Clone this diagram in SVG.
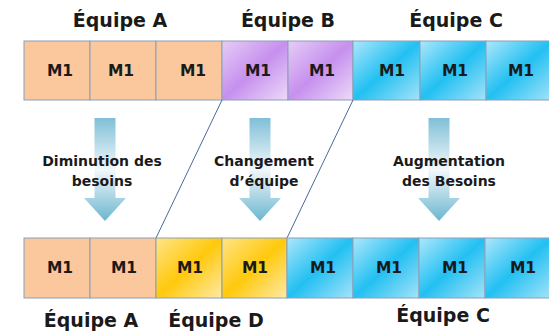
<svg xmlns="http://www.w3.org/2000/svg" width="549" height="331" viewBox="0 0 549 331">
<style>
.t{font-family:"DejaVu Sans",Verdana,sans-serif;font-weight:bold;fill:#1a1a1a;text-anchor:middle}
.h{font-size:19px}
.m{font-size:15.5px}
.l{font-size:14px}
.c{stroke:#8a9fb8;stroke-width:1}
.ln{stroke:#4a6a9a;stroke-width:1;fill:none}
</style>
<defs>
<linearGradient id="gp" x1="0" y1="0" x2="1" y2="1">
<stop offset="0" stop-color="#e6cdf7"/><stop offset="0.5" stop-color="#c690ee"/><stop offset="1" stop-color="#eddbf9"/>
</linearGradient>
<linearGradient id="gb" x1="0" y1="0" x2="1" y2="1">
<stop offset="0" stop-color="#ade7fb"/><stop offset="0.5" stop-color="#22c0f2"/><stop offset="1" stop-color="#a6e3f8"/>
</linearGradient>
<linearGradient id="gy" x1="0" y1="0" x2="1" y2="1">
<stop offset="0" stop-color="#ffe487"/><stop offset="0.5" stop-color="#ffc90c"/><stop offset="1" stop-color="#ffeaa8"/>
</linearGradient>
<linearGradient id="ga" x1="0" y1="0" x2="0" y2="1">
<stop offset="0" stop-color="#7fbfd7"/><stop offset="0.5" stop-color="#f2f8fb"/><stop offset="1" stop-color="#6cb6cf"/>
</linearGradient>
<path id="arr" d="M-10.5,0 H10.5 V80 H21 L0,103 L-21,80 H-10.5 Z" fill="url(#ga)"/>
</defs>

<g id="titles-top">
<text class="t h" x="120" y="27">Équipe A</text>
<text class="t h" x="288" y="27">Équipe B</text>
<text class="t h" x="456" y="27">Équipe C</text>
</g>

<g id="row-top">
<rect class="c" x="24" y="41" width="66" height="59" fill="#fbc89d"/>
<rect class="c" x="90" y="41" width="66" height="59" fill="#fbc89d"/>
<rect class="c" x="156" y="41" width="66" height="59" fill="#fbc89d"/>
<rect class="c" x="222" y="41" width="66" height="59" fill="url(#gp)"/>
<rect class="c" x="288" y="41" width="65" height="59" fill="url(#gp)"/>
<rect class="c" x="353" y="41" width="67" height="59" fill="url(#gb)"/>
<rect class="c" x="420" y="41" width="66" height="59" fill="url(#gb)"/>
<rect class="c" x="486" y="41" width="66" height="59" fill="url(#gb)"/>
<text class="t m" x="60" y="76">M1</text>
<text class="t m" x="121" y="76">M1</text>
<text class="t m" x="193" y="76">M1</text>
<text class="t m" x="258" y="76">M1</text>
<text class="t m" x="322" y="76">M1</text>
<text class="t m" x="392" y="76">M1</text>
<text class="t m" x="455" y="76">M1</text>
<text class="t m" x="521" y="76">M1</text>
</g>

<g id="arrows">
<use href="#arr" x="105" y="118"/>
<use href="#arr" x="260" y="118"/>
<use href="#arr" x="439" y="118"/>
</g>

<g id="labels-mid">
<text class="t l" x="102" y="166">Diminution des</text>
<text class="t l" x="102" y="186">besoins</text>
<text class="t l" x="264" y="166">Changement</text>
<text class="t l" x="264" y="186">d’équipe</text>
<text class="t l" x="449" y="166">Augmentation</text>
<text class="t l" x="449" y="186">des Besoins</text>
</g>

<g id="connectors">
<line class="ln" x1="222" y1="100" x2="156" y2="238"/>
<line class="ln" x1="353" y1="100" x2="287" y2="238"/>
</g>

<g id="row-bottom">
<rect class="c" x="24" y="238" width="66" height="60" fill="#fbc89d"/>
<rect class="c" x="90" y="238" width="66" height="60" fill="#fbc89d"/>
<rect class="c" x="156" y="238" width="66" height="60" fill="url(#gy)"/>
<rect class="c" x="222" y="238" width="65" height="60" fill="url(#gy)"/>
<rect class="c" x="287" y="238" width="66" height="60" fill="url(#gb)"/>
<rect class="c" x="353" y="238" width="66" height="60" fill="url(#gb)"/>
<rect class="c" x="419" y="238" width="66" height="60" fill="url(#gb)"/>
<rect class="c" x="485" y="238" width="66" height="60" fill="url(#gb)"/>
<text class="t m" x="60" y="273">M1</text>
<text class="t m" x="124" y="273">M1</text>
<text class="t m" x="190" y="273">M1</text>
<text class="t m" x="255" y="273">M1</text>
<text class="t m" x="323" y="273">M1</text>
<text class="t m" x="389" y="273">M1</text>
<text class="t m" x="455" y="273">M1</text>
<text class="t m" x="523" y="273">M1</text>
</g>

<g id="titles-bottom">
<text class="t h" x="91" y="327">Équipe A</text>
<text class="t h" x="216" y="327">Équipe D</text>
<text class="t h" x="443" y="322">Équipe C</text>
</g>
</svg>
